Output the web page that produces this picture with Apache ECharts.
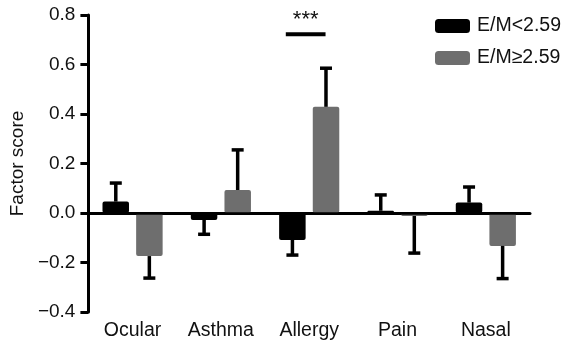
<!DOCTYPE html>
<html>
<head>
<meta charset="utf-8">
<script src="https://cdn.jsdelivr.net/npm/echarts@6/dist/echarts.min.js"></script>
<style>html,body{margin:0;padding:0;background:#fff}#c{width:561px;height:348px}</style>
</head>
<body>
<div id="c"></div>
<script>
const categories = ['Ocular', 'Asthma', 'Allergy', 'Pain', 'Nasal'];
const seriesNames = ['E/M<2.59', 'E/M\u22652.59'];
const lowMeans = [0.046, -0.028, -0.109, 0.009, 0.042];
const lowErrEnds = [0.121, -0.086, -0.170, 0.073, 0.105];
const highMeans = [-0.174, 0.093, 0.429, -0.012, -0.133];
const highErrEnds = [-0.263, 0.255, 0.585, -0.162, -0.265];
const yTicks = [-0.4, -0.2, 0.0, 0.2, 0.4, 0.6, 0.8];
const sigCategory = 'Allergy';
const sigValue = 0.722;
const sigText = '***';

const FONT = '"Liberation Sans", Arial, Helvetica, sans-serif';
const colors = ['#000000', '#6e6e6e'];

const chart = echarts.init(document.getElementById('c'), null, {renderer: 'canvas'});

function errSeries(means, ends, sign) {
  return {
    type: 'custom',
    z: 5,
    silent: true,
    data: means.map((m, i) => [i, m, ends[i]]),
    renderItem: function (params, api) {
      const p0 = api.coord([api.value(0), api.value(1)]);
      const p1 = api.coord([api.value(0), api.value(2)]);
      const bw = api.size([1, 0])[0];
      const x = p0[0] + sign * bw * 0.19;
      const st = {stroke: '#000', lineWidth: 3.5};
      return {
        type: 'group',
        children: [
          {type: 'line', shape: {x1: x, y1: p0[1], x2: x, y2: p1[1]}, style: st},
          {type: 'line', shape: {x1: x - 6, y1: p1[1], x2: x + 6, y2: p1[1]}, style: st}
        ]
      };
    }
  };
}

const option = {
  animation: false,
  textStyle: {fontFamily: FONT},
  grid: {left: 87, right: 31, top: 15, bottom: 36},
  legend: {
    data: seriesNames,
    orient: 'vertical',
    left: 430,
    top: 11,
    itemWidth: 35,
    itemHeight: 14,
    itemGap: 12,
    icon: 'roundRect',
    selectedMode: false,
    textStyle: {fontSize: 19.5, color: '#111', fontFamily: FONT, padding: [0, 0, 0, 2]}
  },
  xAxis: {
    type: 'category',
    data: categories,
    axisLine: {lineStyle: {color: '#000', width: 3}},
    axisTick: {alignWithLabel: true, length: 7, lineStyle: {width: 3, color: '#000'}},
    axisLabel: {fontSize: 19.5, color: '#111', margin: 9, fontFamily: FONT}
  },
  yAxis: {
    type: 'value',
    min: yTicks[0],
    max: yTicks[yTicks.length - 1],
    interval: 0.2,
    name: 'Factor score',
    nameLocation: 'middle',
    nameGap: 61,
    nameTextStyle: {fontSize: 19, color: '#111', fontFamily: FONT},
    splitLine: {show: false},
    axisLine: {show: true, lineStyle: {color: '#000', width: 3}},
    axisTick: {show: true, length: 8, lineStyle: {width: 3, color: '#000'}},
    axisLabel: {
      fontSize: 19, color: '#111', margin: 13, fontFamily: FONT,
      formatter: v => (v < 0 ? '\u2212' : '') + Math.abs(v).toFixed(1)
    }
  },
  series: [
    {
      name: seriesNames[0],
      type: 'bar',
      data: lowMeans,
      barWidth: '30%',
      barGap: '27%',
      itemStyle: {color: colors[0], borderRadius: 2},
      markLine: {
        silent: true,
        symbol: 'none',
        label: {show: false},
        lineStyle: {color: '#000', width: 2.5, type: 'solid'},
        data: [{yAxis: 0}]
      }
    },
    {
      name: seriesNames[1],
      type: 'bar',
      data: highMeans,
      barWidth: '30%',
      barGap: '27%',
      itemStyle: {color: colors[1], borderRadius: 2}
    },
    errSeries(lowMeans, lowErrEnds, -1),
    errSeries(highMeans, highErrEnds, 1),
    {
      type: 'custom',
      silent: true,
      z: 6,
      data: [[categories.indexOf(sigCategory), sigValue]],
      renderItem: function (params, api) {
        const p = api.coord([api.value(0), api.value(1)]);
        const bw = api.size([1, 0])[0];
        return {
          type: 'group',
          children: [
            {type: 'line', shape: {x1: p[0] - bw * 0.265, y1: p[1], x2: p[0] + bw * 0.185, y2: p[1]},
             style: {stroke: '#000', lineWidth: 4}},
            {type: 'text', x: p[0] - bw * 0.04, y: p[1] - 3,
             style: {text: sigText, fill: '#111', font: '22px ' + FONT, textAlign: 'center', textVerticalAlign: 'bottom'}}
          ]
        };
      }
    }
  ]
};
chart.setOption(option);
</script>
</body>
</html>
